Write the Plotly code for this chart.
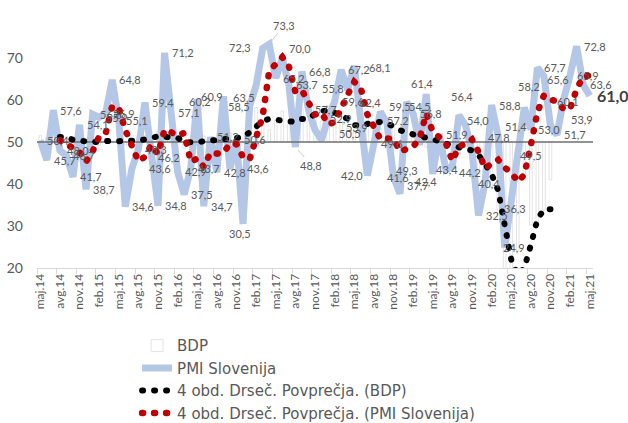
import plotly.graph_objects as go
import pandas as pd

# ---------------- data ----------------
month_names = ['jan', 'feb', 'mar', 'apr', 'maj', 'jun', 'jul', 'avg', 'sep', 'okt', 'nov', 'dec']
categories = [f"{month_names[(4 + k) % 12]}.{14 + (4 + k) // 12:02d}" for k in range(85)]  # maj.14 ... maj.21

pmi = [50.4, 45.7, 57.6, 48.0, 46.7, 41.7, 54.1, 38.7, 56.6, 55.9,
       56.9, 64.8, 55.1, 34.6, 43.6, 48.3, 59.4, 46.2, 34.8, 71.2,
       57.1, 42.9, 37.5, 43.7, 60.2, 34.7, 51.2, 42.8, 60.9, 43.6,
       50.6, 30.5, 58.5, 63.5, 72.3, 73.3, 65.2, 70.0, 63.7, 48.8,
       66.8, 57.7, 52.9, 50.5, 55.8, 59.6, 67.2, 62.4, 68.1, 53.9,
       42.0, 49.6, 57.2, 54.5, 41.6, 37.7, 59.5, 56.8, 49.3, 61.4,
       42.4, 51.9, 43.4, 44.2, 56.4, 54.0, 47.8, 32.5, 40.4, 58.8,
       51.4, 24.9, 36.3, 49.5, 58.2, 53.0, 67.7, 65.6, 53.9, 51.7,
       60.1, 65.9, 72.8, 63.6, 61.0]

bdp = [51.5, 51.0, 51.2, 51.1, 51.3, 48.5, 50.0, 50.2, 51.0, 49.2,
       50.8, 50.2, 50.6, 49.3, 50.3, 51.3, 51.5, 50.2, 52.5, 50.6,
       50.7, 50.2, 48.5, 49.8, 51.1, 51.4, 49.0, 50.5, 51.5, 52.2,
       49.8, 50.9, 56.3, 58.2, 54.6, 52.9, 55.1, 57.4, 54.2, 52.5,
       57.9, 57.4, 59.0, 55.0, 58.6, 55.4, 55.0, 53.2, 52.4, 55.4,
       56.6, 54.0, 53.2, 53.8, 54.2, 50.0, 50.8, 52.2, 52.6, 48.8,
       48.8, 50.6, 50.2, 46.8, 47.2, 49.0, 49.0, 42.4, 38.8, 39.0,
       33.8, 8.4, 6.8, 24.0, 41.0, 30.2, 31.0, 33.8, 41.0]

y_ticks = [20, 30, 40, 50, 60, 70]
base_level = 50
ma_window = 4

# ---------------- derived ----------------
x = list(range(len(categories)))
pmi_ma = pd.Series(pmi).rolling(ma_window).mean()
bdp_ma = pd.Series(bdp).rolling(ma_window).mean()

GREY_TXT = '#595959'
FONT = 'Lato'

fig = go.Figure()

fig.add_trace(go.Bar(
    x=x[:len(bdp)], y=[b - base_level for b in bdp], base=base_level,
    name='BDP', width=0.4,
    marker=dict(color='white', line=dict(color='#d9d9d9', width=0.7)),
    hoverinfo='skip'))

fig.add_trace(go.Scatter(
    x=x, y=pmi, mode='lines', name='PMI Slovenija',
    line=dict(color='#b4c7e7', width=7)))

fig.add_trace(go.Scatter(
    x=[x[0] - 0.5, x[-1] + 0.5], y=[base_level, base_level], mode='lines',
    line=dict(color='#6f6f6f', width=1.5), showlegend=False, hoverinfo='skip'))

fig.add_trace(go.Scatter(
    x=x[:len(bdp)], y=bdp_ma, mode='lines', name='4 obd. Drseč. Povprečja. (BDP)',
    line=dict(color='black', width=6, dash='1px,11px')))

fig.add_trace(go.Scatter(
    x=x, y=pmi_ma, mode='lines', name='4 obd. Drseč. Povprečja. (PMI Slovenija)',
    line=dict(color='#c00000', width=6.5, dash='1px,11px')))

# ---------------- data labels ----------------
label_style = {
    14: dict(xshift=15), 29: dict(xshift=15),
    24: dict(xanchor='center', xshift=3, yshift=-2),
    28: dict(xanchor='right', xshift=2),
    31: dict(xanchor='center', xshift=-3, yshift=-10),
    32: dict(xanchor='right', xshift=2),
    33: dict(xanchor='right', xshift=1, yshift=-12),
    34: dict(xanchor='right', xshift=-10, yshift=1),
    35: dict(arrow=(15, -19)),
    37: dict(yshift=10),
    39: dict(arrow=(16, 18)),
    42: dict(xshift=13, yshift=11),
    43: dict(xshift=15, yshift=6),
    44: dict(xanchor='center', xshift=5, yshift=29),
    47: dict(xshift=9, yshift=-13),
    48: dict(xshift=13, yshift=-2),
    49: dict(xanchor='center', xshift=-4, yshift=-2),
    50: dict(xanchor='right', xshift=-2),
    52: dict(yshift=-9),
    53: dict(xshift=20, yshift=17),
    54: dict(xanchor='center'),
    55: dict(yshift=8),
    56: dict(xanchor='right', xshift=6, yshift=-4),
    58: dict(xanchor='right', xshift=0, yshift=-26),
    59: dict(xanchor='center', xshift=-4, yshift=11),
    60: dict(xanchor='right', xshift=6, yshift=-8),
    62: dict(xanchor='center', xshift=1),
    63: dict(yshift=-6),
    64: dict(xanchor='center', xshift=3, yshift=19),
    65: dict(xshift=0, yshift=5),
    66: dict(xshift=14, yshift=14),
    68: dict(xanchor='center', xshift=4, yshift=-1),
    70: dict(yshift=10),
    71: dict(xshift=-4),
    72: dict(xanchor='center', xshift=4, yshift=-9),
    73: dict(xshift=0, yshift=-11),
    74: dict(xanchor='center', yshift=21),
    77: dict(xshift=1, yshift=-3),
    78: dict(xshift=19, yshift=6),
    80: dict(xanchor='center', xshift=4, yshift=-2),
}

annotations = []
for i, v in enumerate(pmi):
    st = label_style.get(i, {})
    txt = f"{v:.1f}".replace('.', ',')
    last = (i == len(pmi) - 1)
    font = dict(family=FONT, size=16 if last else 11,
                color='#404040' if last else GREY_TXT)
    if last:
        txt = f"<b>{txt}</b>"
    if 'arrow' in st:
        ax, ay = st['arrow']
        annotations.append(dict(x=i, y=v, xref='x', yref='y', text=txt, font=font,
                                showarrow=True, ax=ax, ay=ay, arrowhead=0,
                                arrowwidth=0.8, arrowcolor='#bfbfbf', standoff=4))
    else:
        annotations.append(dict(x=i, y=v, xref='x', yref='y', text=txt, font=font,
                                showarrow=False,
                                xanchor=st.get('xanchor', 'left'),
                                xshift=st.get('xshift', 5),
                                yshift=st.get('yshift', 0)))

fig.update_layout(
    width=628, height=423, autosize=False,
    margin=dict(l=37, r=35, t=16, b=155, autoexpand=False),
    plot_bgcolor='white', paper_bgcolor='white',
    font=dict(family=FONT, color=GREY_TXT),
    annotations=annotations,
    showlegend=True,
    legend=dict(x=0.18, y=-0.243, xanchor='left', yanchor='top',
                font=dict(family='DejaVu Sans', size=15, color=GREY_TXT),
                bgcolor='rgba(0,0,0,0)', itemwidth=30, tracegroupgap=0),
    xaxis=dict(range=[x[0] - 0.5, x[-1] + 0.5], automargin=False,
               tickmode='array', tickvals=x[::3], ticktext=categories[::3],
               tickangle=-90, tickfont=dict(family=FONT, size=12, color=GREY_TXT),
               showline=True, linecolor='#d9d9d9', linewidth=1,
               ticks='', showgrid=False, zeroline=False,
               minor=dict(tickmode='linear', tick0=x[0] - 0.5, dtick=3,
                          ticks='outside', ticklen=5, tickcolor='#d9d9d9', showgrid=False)),
    yaxis=dict(range=[20, 80], tickmode='array', tickvals=y_ticks, automargin=False,
               tickfont=dict(family=FONT, size=14, color=GREY_TXT),
               showgrid=False, zeroline=False, showline=False, ticks='',
               ticklabelstandoff=13),
)

post = """
document.body.style.margin = '0';
document.body.style.padding = '0';
var gd = document.getElementById('{plot_id}');
function fixDots(){
  var tr = gd.querySelectorAll('.scatterlayer .trace');
  for (var k = 2; k < tr.length; k++) {
    tr[k].querySelectorAll('path').forEach(function(e){ e.style.strokeLinecap = 'round'; });
  }
  gd.querySelectorAll('.legend .traces').forEach(function(t, i){
    if (i >= 2) { t.querySelectorAll('path').forEach(function(e){ e.style.strokeLinecap = 'round'; }); }
  });
}
fixDots();
gd.on('plotly_afterplot', fixDots);
"""

fig.write_html("out.html", post_script=post, config={'displayModeBar': False})
